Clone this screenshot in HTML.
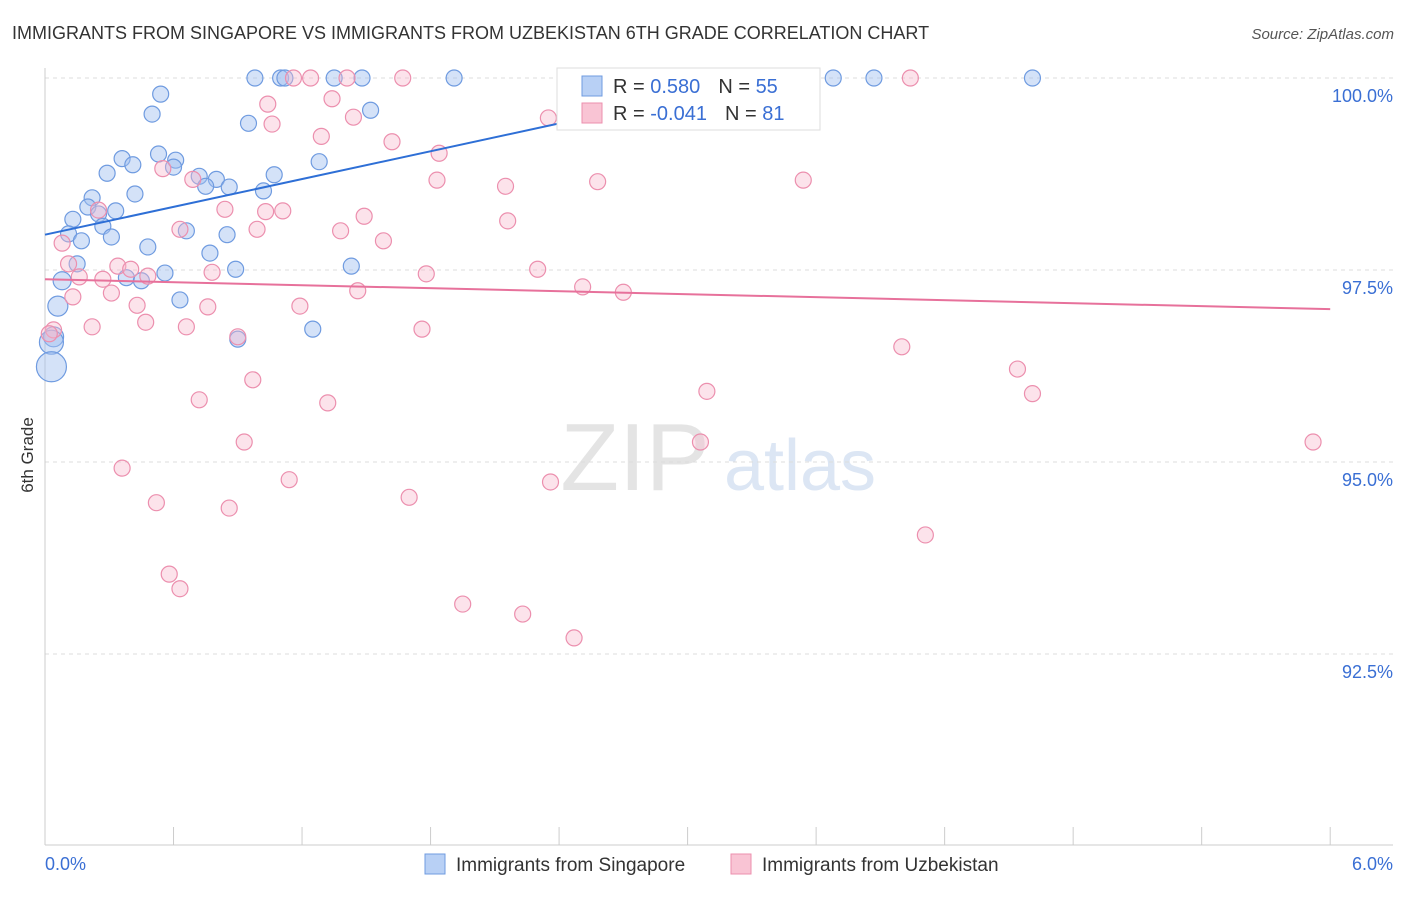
<!DOCTYPE html>
<html><head><meta charset="utf-8"><style>
body{margin:0;background:#fff;font-family:"Liberation Sans",sans-serif}
svg text{font-family:"Liberation Sans",sans-serif}
</style></head><body>
<svg id="chart" width="1406" height="892" xmlns="http://www.w3.org/2000/svg">
<text x="12" y="39" font-size="18" fill="#333">IMMIGRANTS FROM SINGAPORE VS IMMIGRANTS FROM UZBEKISTAN 6TH GRADE CORRELATION CHART</text>
<text x="1394" y="39" font-size="15" fill="#555" text-anchor="end" font-style="italic">Source: ZipAtlas.com</text>
<text transform="translate(33,455) rotate(-90)" font-size="17" fill="#333" text-anchor="middle">6th Grade</text>
<g><text x="635" y="490" font-size="96" fill="#e4e4e4" text-anchor="middle" font-family="Liberation Serif">ZIP</text><text x="800" y="490" font-size="72" fill="#dce6f4" text-anchor="middle">atlas</text></g>
<g id="grid"></g><g id="axes"></g><g id="pts"></g><g id="lines"></g>
<g>
<rect x="557" y="68" width="263" height="62" fill="#fff" stroke="#ddd"/>
<rect x="582" y="76" width="20" height="20" fill="#b8d0f5" stroke="#6f9be0"/>
<rect x="582" y="103" width="20" height="20" fill="#f9c4d4" stroke="#ec8fae"/>
<text x="613" y="93" font-size="20" fill="#333">R = <tspan fill="#3a6fd4"> 0.580</tspan><tspan dx="18" fill="#333">N = </tspan><tspan fill="#3a6fd4">55</tspan></text>
<text x="613" y="120" font-size="20" fill="#333">R = <tspan fill="#3a6fd4">-0.041</tspan><tspan dx="18" fill="#333">N = </tspan><tspan fill="#3a6fd4"> 81</tspan></text>
</g>
<g>
<rect x="425" y="854" width="20" height="20" fill="#b8d0f5" stroke="#6f9be0"/>
<text x="456" y="871" font-size="19" fill="#333">Immigrants from Singapore</text>
<rect x="731" y="854" width="20" height="20" fill="#f9c4d4" stroke="#ec8fae"/>
<text x="762" y="871" font-size="19" fill="#333">Immigrants from Uzbekistan</text>
</g>
</svg>
<script>
const yTicks=[100,97.5,95,92.5];
const yTickLabels=["100.0%","97.5%","95.0%","92.5%"];
const xTickLabels=["0.0%","6.0%"];
const sgX=[0.98,1.10,1.12,1.35,1.48,1.91,3.24,3.68,3.87,4.61,0.54,0.50,1.52,0.95,0.53,0.36,0.61,0.41,0.60,0.29,0.72,0.80,1.07,1.28,0.75,0.86,1.02,0.42,0.22,0.20,0.33,0.25,0.13,0.27,0.66,0.11,0.31,0.85,0.17,0.48,0.77,0.15,0.89,1.43,0.56,0.38,0.45,0.08,0.63,0.06,1.25,0.90,0.04,0.03,0.03];
const sgY=[100,100,100,100,100,100,100,100,100,100,99.79,99.53,99.58,99.41,99.01,98.95,98.93,98.87,98.84,98.76,98.72,98.68,98.74,98.91,98.59,98.58,98.53,98.49,98.44,98.32,98.27,98.23,98.16,98.07,98.01,97.97,97.93,97.96,97.88,97.80,97.72,97.58,97.51,97.55,97.46,97.40,97.36,97.36,97.11,97.03,96.73,96.60,96.63,96.56,96.24];
const sgR=[8,8,8,8,8,8,8,8,8,8,8,8,8,8,8,8,8,8,8,8,8,8,8,8,8,8,8,8,8,8,8,8,8,8,8,8,8,8,8,8,8,8,8,8,8,8,8,9,8,10,8,8,10,12,15];
const uzX=[1.16,1.24,1.41,1.67,3.13,3.39,4.04,1.34,1.04,1.44,1.06,1.29,1.62,1.84,0.55,0.69,1.83,2.15,2.58,3.54,0.84,0.25,1.03,1.11,1.49,2.16,0.63,0.99,1.38,1.58,0.08,0.11,0.34,0.40,0.48,0.78,1.78,2.30,0.16,0.27,0.31,0.13,1.46,2.51,2.70,0.43,0.76,1.19,0.47,0.22,0.66,1.76,0.04,0.02,0.90,4.00,0.97,4.54,3.09,4.61,0.72,1.32,0.93,3.06,5.92,0.36,1.14,1.70,2.36,0.52,0.86,4.11,0.58,0.63,1.95,2.23,2.47,2.35];
const uzY=[100,100,100,100,100,100,100,99.73,99.66,99.49,99.40,99.24,99.17,99.02,98.82,98.68,98.67,98.59,98.65,98.67,98.29,98.28,98.26,98.27,98.20,98.14,98.03,98.03,98.01,97.88,97.85,97.58,97.55,97.51,97.42,97.47,97.45,97.51,97.41,97.38,97.20,97.15,97.23,97.28,97.21,97.04,97.02,97.03,96.82,96.76,96.76,96.73,96.72,96.67,96.63,96.50,96.07,96.21,95.92,95.89,95.81,95.77,95.26,95.26,95.26,94.92,94.77,94.54,94.74,94.47,94.40,94.05,93.54,93.35,93.15,93.02,92.71,99.48];
const sgLineX=[0,3.38], sgLineY=[97.96,100];
const uzLineX=[0,6], uzLineY=[97.38,96.99];
const NS="http://www.w3.org/2000/svg";
const X=v=>45+v*214.2, Y=v=>78+(100-v)*76.8;
function mk(t,a,p){const e=document.createElementNS(NS,t);for(const k in a)e.setAttribute(k,a[k]);document.getElementById(p).appendChild(e);return e;}
yTicks.forEach((t,i)=>{
 const g=mk('line',{x1:45,x2:1393,y1:Y(t),y2:Y(t),stroke:'#ddd','stroke-dasharray':'4,4'},'grid');
 
 
 const l=mk('text',{x:1393,y:Y(t)+24,'font-size':18,fill:'#3a6fd4','text-anchor':'end'},'axes');l.textContent=yTickLabels[i];
 
 
});
const ax=mk('line',{x1:45,x2:1393,y1:845,y2:845,stroke:'#ccc'},'axes');


const ay=mk('line',{x1:45,x2:45,y1:68,y2:845,stroke:'#ccc'},'axes');


for(let i=0;i<=10;i++){const tk=mk('line',{x1:X(i*0.6),x2:X(i*0.6),y1:827,y2:845,stroke:'#ccc'},'axes');
 
 }
[[0,'start',45],[6,'end',1393]].forEach((d,i)=>{const t=mk('text',{x:d[2],y:870,'font-size':18,fill:'#3a6fd4','text-anchor':d[1]},'axes');t.textContent=xTickLabels[i];
 
 });
sgX.forEach((x,i)=>{const c=mk('circle',{cx:X(x),cy:Y(sgY[i]),r:sgR[i],fill:'rgba(160,190,240,0.45)',stroke:'#6f9be0','stroke-width':1.2},'pts');
 
 });
uzX.forEach((x,i)=>{const c=mk('circle',{cx:X(x),cy:Y(uzY[i]),r:8,fill:'rgba(248,185,205,0.4)',stroke:'#ec8fae','stroke-width':1.2},'pts');
 
 });
const l1=mk('line',{x1:X(sgLineX[0]),y1:Y(sgLineY[0]),x2:X(sgLineX[1]),y2:Y(sgLineY[1]),stroke:'#2e6fd6','stroke-width':2},'lines');


const l2=mk('line',{x1:X(uzLineX[0]),y1:Y(uzLineY[0]),x2:X(uzLineX[1]),y2:Y(uzLineY[1]),stroke:'#e7719b','stroke-width':2},'lines');


</script>
</body></html>
